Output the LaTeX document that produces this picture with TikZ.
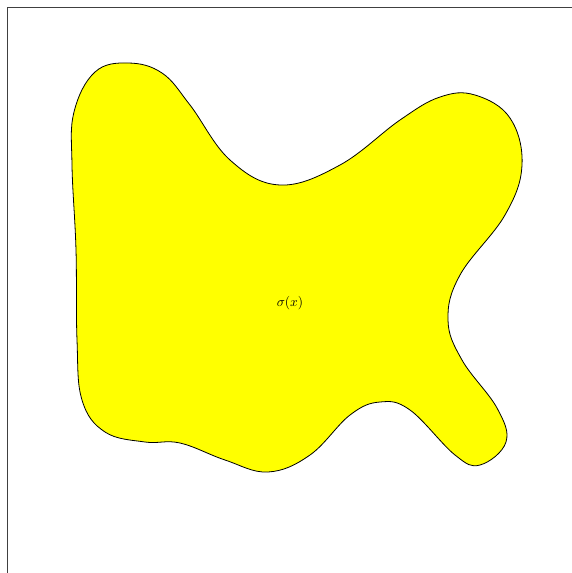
\documentclass[tikz,border=0pt]{standalone}
\definecolor{blobyellow}{RGB}{255,255,0}
\begin{document}
\begin{tikzpicture}[x=1pt,y=-1pt,
  blob/.style={draw=black,fill=blobyellow,line width=0.8pt},
  frame/.style={draw=black!75,line width=1pt}]
\useasboundingbox (0,0) rectangle (572,573);
\begin{scope}
\clip (0,0) rectangle (572,573);
\draw[frame] (7.5,7.5) rectangle (620,620);
\end{scope}
\filldraw[blob] plot[smooth cycle,tension=0.65] coordinates {
 (74,112) (95,72) (128,63) (162,73) (190,105) (230,160) (280,185) (340,165)
 (400,120) (440,97) (475,95) (510,118) (522,165) (505,215) (460,275) (448,320)
 (462,360) (497,408) (506,442) (480,465) (455,455) (410,410) (380,402) (350,415)
 (310,455) (268,472) (225,460) (180,443) (145,442) (105,432) (82,400) (77,340)
 (76,250) (72,165)};
\node[scale=1.35] (lbl) at (290,303) {$\sigma(x)$};
\end{tikzpicture}
\end{document}
